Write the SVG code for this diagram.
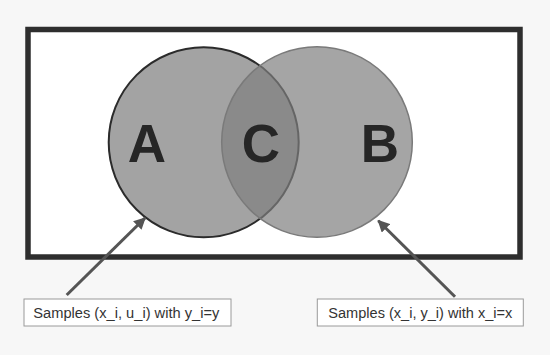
<svg xmlns="http://www.w3.org/2000/svg" width="550" height="355" viewBox="0 0 550 355">
  <defs>
    <marker id="ah" viewBox="0 0 10 10" refX="9" refY="5" markerWidth="4" markerHeight="4" markerUnits="strokeWidth" orient="auto">
      <path d="M0,0 L10,5 L0,10 z" fill="#555"/>
    </marker>
    <style>
      .letter { font-family: "Liberation Sans", Arial, sans-serif; font-weight: bold; font-size: 53px; fill: #262626; text-anchor: middle; }
      .label { font-family: "Liberation Sans", Arial, sans-serif; font-size: 15.5px; fill: #333333; }
      .box { fill: #ffffff; stroke: #9a9a9a; stroke-width: 1; }
      .conn { stroke: #555; stroke-width: 3; fill: none; }
    </style>
  </defs>
  <rect x="0" y="0" width="550" height="355" fill="#f7f7f7"/>
  <g id="frame">
    <rect x="28" y="29.5" width="492" height="227.5" fill="#ffffff" stroke="#2e2e2e" stroke-width="5.5"/>
  </g>
  <g id="setA">
    <circle cx="203.7" cy="142.3" r="95" fill="#a3a3a3" stroke="#2b2b2b" stroke-width="2"/>
  </g>
  <g id="setB">
    <circle cx="317" cy="142" r="95.3" fill="#7f7f7f" fill-opacity="0.7" stroke="#7a7a7a" stroke-width="1.5"/>
  </g>
  <g id="labelA"><text class="letter" x="147" y="162">A</text></g>
  <g id="labelC"><text class="letter" x="261" y="162">C</text></g>
  <g id="labelB"><text class="letter" x="380" y="162">B</text></g>
  <g id="connectors">
    <line class="conn" x1="66.7" y1="295" x2="145" y2="218" marker-end="url(#ah)"/>
    <line class="conn" x1="455" y1="296.7" x2="378.3" y2="220.7" marker-end="url(#ah)"/>
  </g>
  <g id="noteA">
    <rect class="box" x="24" y="299" width="207" height="27"/>
    <text class="label" x="33.3" y="317.5" textLength="186" lengthAdjust="spacingAndGlyphs">Samples (x_i, u_i) with y_i=y</text>
  </g>
  <g id="noteB">
    <rect class="box" x="317.3" y="299" width="206" height="27"/>
    <text class="label" x="328.3" y="317.5" textLength="184" lengthAdjust="spacingAndGlyphs">Samples (x_i, y_i) with x_i=x</text>
  </g>
</svg>
